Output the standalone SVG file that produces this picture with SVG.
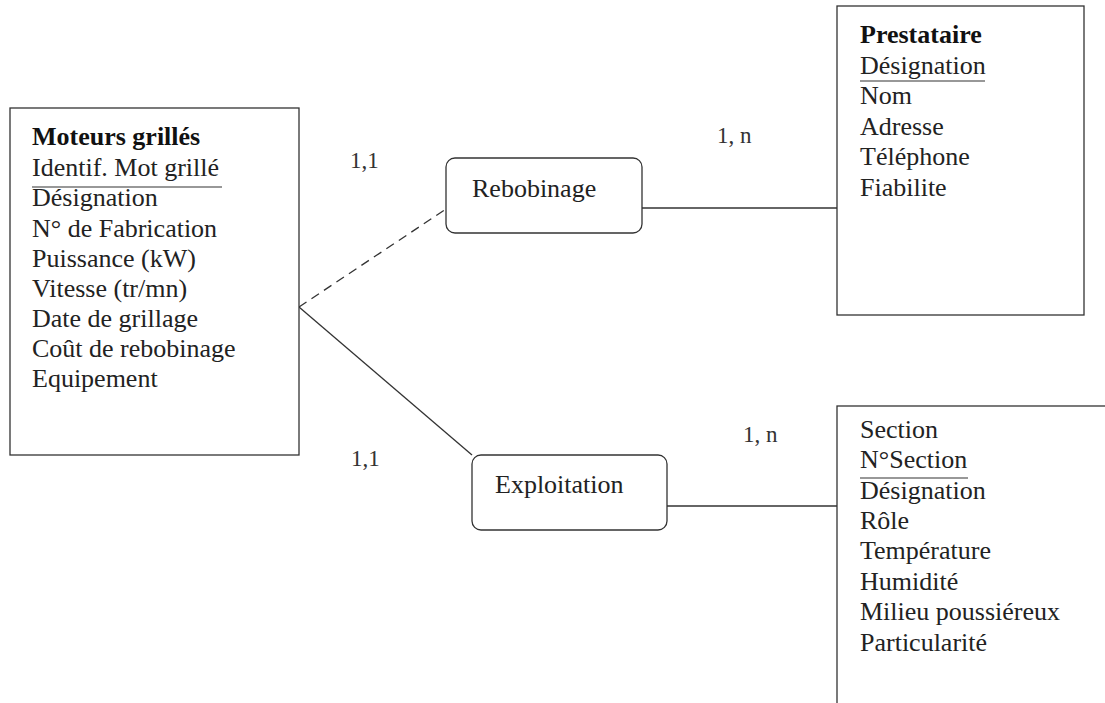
<svg xmlns="http://www.w3.org/2000/svg" width="1105" height="703" viewBox="0 0 1105 703">
  <style>
    .box { fill: #ffffff; stroke: #333333; stroke-width: 1.3; }
    .rel { fill: #ffffff; stroke: #333333; stroke-width: 1.3; }
    .t { font-family: "Liberation Serif", "Times New Roman", serif; font-size: 26px; fill: #222222; }
    .title { font-weight: bold; fill: #111111; }
    .card { font-family: "Liberation Serif", "Times New Roman", serif; font-size: 23px; fill: #333333; }
    .ul { stroke: #333333; stroke-width: 1.2; }
    .link { stroke: #333333; stroke-width: 1.3; fill: none; }
    .dash { stroke-dasharray: 9 6; }
  </style>

  <rect width="1105" height="703" fill="#ffffff"/>

  <!-- connectors -->
  <g id="connectors">
    <line class="link dash" x1="299" y1="307" x2="446" y2="209"/>
    <line class="link" x1="299" y1="307" x2="472" y2="455"/>
    <line class="link" x1="642" y1="208" x2="837" y2="208"/>
    <line class="link" x1="667" y1="506" x2="837" y2="506"/>
    <text class="card" x="350" y="168">1,1</text>
    <text class="card" x="351" y="466">1,1</text>
    <text class="card" x="717" y="143">1, n</text>
    <text class="card" x="743" y="442">1, n</text>
  </g>

  <!-- entity: Moteurs grillés -->
  <g id="moteurs">
    <rect class="box" x="10" y="108" width="289" height="347"/>
    <text class="t title" x="32" y="145">Moteurs grillés</text>
    <text class="t" x="32" y="176">Identif. Mot grillé</text>
    <line class="ul" x1="32" y1="187" x2="222" y2="187"/>
    <text class="t" x="32" y="206">Désignation</text>
    <text class="t" x="32" y="237">N° de Fabrication</text>
    <text class="t" x="32" y="267">Puissance (kW)</text>
    <text class="t" x="32" y="297">Vitesse (tr/mn)</text>
    <text class="t" x="32" y="327">Date de grillage</text>
    <text class="t" x="32" y="357">Coût de rebobinage</text>
    <text class="t" x="32" y="387">Equipement</text>
  </g>

  <!-- relation: Rebobinage -->
  <g id="rebobinage">
    <rect class="rel" x="446" y="158" width="196" height="75" rx="9" ry="9"/>
    <text class="t" x="472" y="197">Rebobinage</text>
  </g>

  <!-- relation: Exploitation -->
  <g id="exploitation">
    <rect class="rel" x="472" y="455" width="195" height="75" rx="9" ry="9"/>
    <text class="t" x="495" y="493">Exploitation</text>
  </g>

  <!-- entity: Prestataire -->
  <g id="prestataire">
    <rect class="box" x="837" y="6" width="247" height="309"/>
    <text class="t title" x="860" y="43">Prestataire</text>
    <text class="t" x="860" y="74">Désignation</text>
    <line class="ul" x1="860" y1="81" x2="985" y2="81"/>
    <text class="t" x="860" y="104">Nom</text>
    <text class="t" x="860" y="135">Adresse</text>
    <text class="t" x="860" y="165">Téléphone</text>
    <text class="t" x="860" y="196">Fiabilite</text>
  </g>

  <!-- entity: Section (runs past the right and bottom edges) -->
  <g id="section">
    <rect class="box" x="837" y="406" width="320" height="340"/>
    <text class="t" x="860" y="438" fill="#111111">Section</text>
    <text class="t" x="860" y="468">N°Section</text>
    <line class="ul" x1="860" y1="478" x2="968" y2="478"/>
    <text class="t" x="860" y="499">Désignation</text>
    <text class="t" x="860" y="529">Rôle</text>
    <text class="t" x="860" y="559">Température</text>
    <text class="t" x="860" y="590">Humidité</text>
    <text class="t" x="860" y="620">Milieu poussiéreux</text>
    <text class="t" x="860" y="651">Particularité</text>
  </g>
</svg>
